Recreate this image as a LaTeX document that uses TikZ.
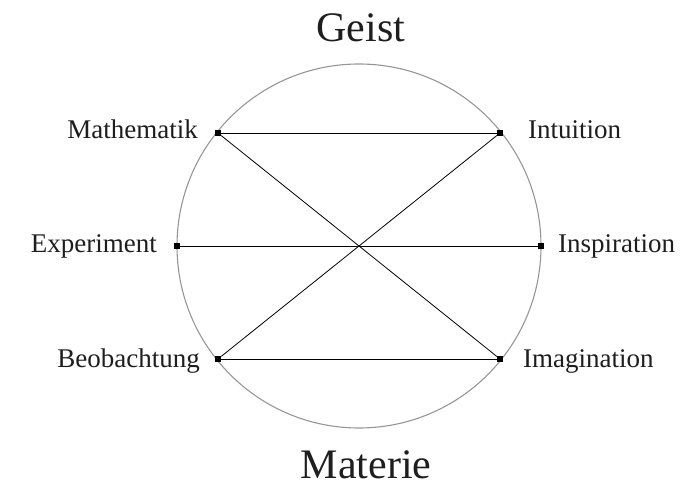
\documentclass[tikz,border=0pt]{standalone}
\usepackage{fontspec}
\setmainfont{Liberation Serif}
\usetikzlibrary{positioning}
\definecolor{ringgray}{RGB}{150,150,150}
\definecolor{inkgray}{RGB}{30,30,30}
\tikzset{
  ring/.style={draw=ringgray, line width=1.1pt},
  link/.style={black, line width=0.8pt},
  pin/.style={fill=black, inner sep=0pt, minimum size=6pt},
  lab/.style={font=\fontsize{27}{32}\selectfont, text=inkgray, inner sep=0pt},
  pole/.style={font=\fontsize{42}{48}\selectfont, text=inkgray, inner sep=0pt},
}

\begin{document}
\begin{tikzpicture}[x=1pt,y=-1pt]
  \path[use as bounding box] (0,0) rectangle (699,486);

  \node[pole, anchor=base] (geist) at (361,42) {Geist};
  \node[pole, anchor=base] (materie) at (366,478) {Materie};

  \draw[ring] (359,246) circle[radius=182pt];

  \node[pin] (math) at (218,133) {};
  \node[pin] (intu) at (500,133) {};
  \node[pin] (expe) at (177,246) {};
  \node[pin] (insp) at (541,246) {};
  \node[pin] (beob) at (218,359) {};
  \node[pin] (imag) at (500,359) {};

  \draw[link] (math) -- (intu);
  \draw[link] (expe) -- (insp);
  \draw[link] (beob) -- (imag);
  \draw[link] (math) -- (imag);
  \draw[link] (beob) -- (intu);

  \node[lab, anchor=base east] (mathlab) at (198,139) {Mathematik};
  \node[lab, anchor=base east] (expelab) at (157,253) {Experiment};
  \node[lab, anchor=base east] (beoblab) at (200,367) {Beobachtung};
  \node[lab, anchor=base west] (intulab) at (528,139) {Intuition};
  \node[lab, anchor=base west] (insplab) at (558,253) {Inspiration};
  \node[lab, anchor=base west] (imaglab) at (523,367) {Imagination};
\end{tikzpicture}
\end{document}
